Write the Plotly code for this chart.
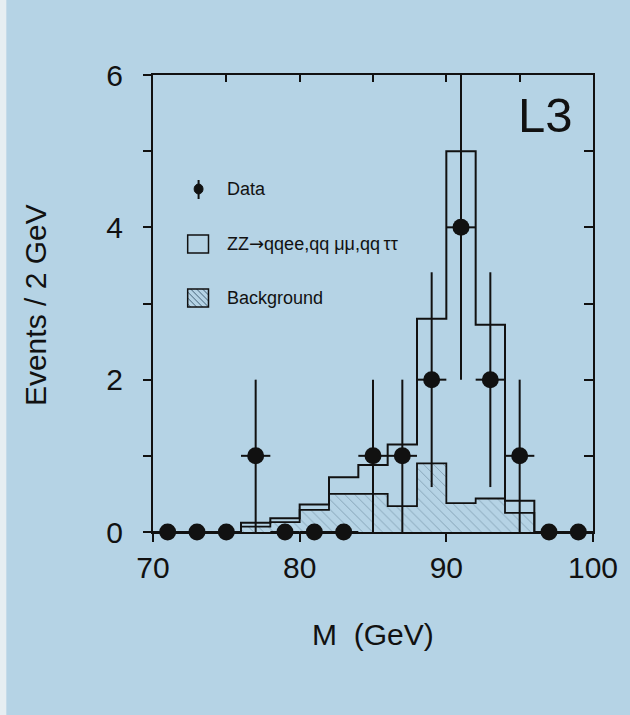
import plotly.graph_objects as go

# ---------------- data ----------------
bin_edges = [70, 72, 74, 76, 78, 80, 82, 84, 86, 88, 90, 92, 94, 96, 98, 100]
bin_centers = [71, 73, 75, 77, 79, 81, 83, 85, 87, 89, 91, 93, 95, 97, 99]
data_counts = [0, 0, 0, 1, 0, 0, 0, 1, 1, 2, 4, 2, 1, 0, 0]
data_err = [0, 0, 0, 1, 0, 0, 0, 1, 1, 1.41, 2, 1.41, 1, 0, 0]
data_xerr = [1] * 15
zz_total = [0, 0, 0, 0.12, 0.18, 0.36, 0.72, 0.88, 1.15, 2.80, 5.0, 2.72, 0.41, 0, 0]
background = [0, 0, 0, 0.07, 0.13, 0.29, 0.50, 0.50, 0.34, 0.90, 0.38, 0.44, 0.25, 0, 0]

x_ticks = [70, 80, 90, 100]
x_minor = [70, 75, 80, 85, 90, 95, 100]
y_ticks = [0, 1, 2, 3, 4, 5, 6]
y_ticktext = ["0", "", "2", "", "4", "", "6"]

BG = "#b5d3e5"
INK = "#111111"
HATCH = "#46647a"
FONT = "Liberation Sans, Arial, sans-serif"

W, H = 630, 715
ML, MR, MT, MB = 153, 33, 75, 183
PW, PH = W - ML - MR, H - MT - MB


def px(xp):
    return (xp - ML) / PW


def py(yp):
    return (H - MB - yp) / PH


fig = go.Figure()

# background (hatched)
fig.add_trace(go.Scatter(
    x=bin_edges, y=background + [background[-1]],
    mode="lines", line=dict(color=INK, width=1.8, shape="hv"),
    fill="tozeroy", fillcolor="rgba(0,0,0,0)",
    fillpattern=dict(shape="\\", fgcolor=HATCH, bgcolor="rgba(0,0,0,0)",
                     size=7, solidity=0.12, fillmode="overlay"),
    showlegend=False, hoverinfo="skip",
))

# ZZ + background total (open histogram)
fig.add_trace(go.Scatter(
    x=bin_edges, y=zz_total + [zz_total[-1]],
    mode="lines", line=dict(color=INK, width=2, shape="hv"),
    showlegend=False, hoverinfo="skip",
))

# data points
fig.add_trace(go.Scatter(
    x=bin_centers, y=data_counts, mode="markers",
    marker=dict(color=INK, size=17, symbol="circle"),
    error_y=dict(type="data", array=data_err, color=INK, thickness=2, width=0),
    error_x=dict(type="data", array=data_xerr, color=INK, thickness=2, width=0),
    cliponaxis=False, showlegend=False,
))

# dummy trace for mirrored (inside-tick) axes
fig.add_trace(go.Scatter(x=[None], y=[None], xaxis="x2", yaxis="y2",
                         showlegend=False, hoverinfo="skip"))

axis_font = dict(family=FONT, size=30, color=INK)

fig.update_layout(
    width=W, height=H,
    margin=dict(l=ML, r=MR, t=MT, b=MB),
    paper_bgcolor=BG, plot_bgcolor=BG,
    showlegend=False,
    font=dict(family=FONT, color=INK),
    xaxis=dict(range=[70, 100], tickvals=x_ticks, ticks="outside", ticklen=8,
               tickwidth=2, tickcolor=INK, showline=True, linecolor=INK,
               linewidth=2, mirror=True, showgrid=False, zeroline=False,
               tickfont=axis_font),
    yaxis=dict(range=[0, 6], tickvals=y_ticks, ticktext=y_ticktext,
               ticks="outside", ticklen=8, tickwidth=2, tickcolor=INK,
               showline=True, linecolor=INK, linewidth=2, mirror=True,
               showgrid=False, zeroline=False, tickfont=axis_font,
               ticklabelstandoff=14),
    xaxis2=dict(range=[70, 100], overlaying="x", side="top", tickvals=x_minor,
                ticks="inside", ticklen=7, tickwidth=2, tickcolor=INK,
                showticklabels=False, showline=False, showgrid=False,
                zeroline=False),
    yaxis2=dict(range=[0, 6], overlaying="y", side="right", tickvals=y_ticks,
                ticks="inside", ticklen=9, tickwidth=2, tickcolor=INK,
                showticklabels=False, showline=False, showgrid=False,
                zeroline=False),
)

# faint white strip at the left edge of the scan
fig.add_shape(type="rect", xref="paper", yref="paper",
              x0=px(-2), x1=px(5), y0=py(H + 2), y1=py(-2),
              fillcolor="#e6eef2", line_width=0, layer="below")

# axis titles
fig.add_annotation(text="M  (GeV)", xref="paper", yref="paper",
                   x=px(375), y=py(634), showarrow=False,
                   xanchor="center", yanchor="middle",
                   font=dict(family=FONT, size=30, color=INK))
fig.add_annotation(text="Events / 2 GeV", xref="paper", yref="paper",
                   x=px(34), y=py(305), showarrow=False, textangle=-90,
                   xanchor="center", yanchor="middle",
                   font=dict(family=FONT, size=30, color=INK))

# L3 label
fig.add_annotation(text="L3", xref="paper", yref="paper",
                   x=px(579), y=py(115), showarrow=False,
                   xanchor="right", yanchor="middle",
                   font=dict(family=FONT, size=49, color=INK))

# ---- hand-drawn legend ----
leg_font = dict(family=FONT, size=18, color=INK)
# Data symbol
fig.add_shape(type="line", xref="paper", yref="paper",
              x0=px(199), x1=px(199), y0=py(180), y1=py(199),
              line=dict(color=INK, width=2))
fig.add_shape(type="circle", xref="paper", yref="paper",
              x0=px(194.5), x1=px(203.5), y0=py(194), y1=py(184),
              fillcolor=INK, line=dict(color=INK, width=1))
fig.add_annotation(text="Data", xref="paper", yref="paper", x=px(226), y=py(189),
                   showarrow=False, xanchor="left", yanchor="middle", font=leg_font)
# ZZ open box
fig.add_shape(type="rect", xref="paper", yref="paper",
              x0=px(188), x1=px(209), y0=py(253), y1=py(235),
              fillcolor="rgba(0,0,0,0)", line=dict(color=INK, width=1.5))
fig.add_annotation(
    text="ZZ<span style=\"font-family:'DejaVu Sans'\">→</span>qqee,qq μμ,qq\u2009ττ",
    xref="paper", yref="paper", x=px(226), y=py(244), showarrow=False,
    xanchor="left", yanchor="middle", font=leg_font)
# Background hatched box (diagonal "\" lines clipped to the box)
bx0, bx1, by0, by1 = 188, 209, 289, 307
bh = by1 - by0
for c in range(bx0 - bh + 3, bx1 - 2, 6):   # line: x = c + (y - by0)
    pts = []
    for yy in (by0, by1):
        xx = c + (yy - by0)
        if bx0 <= xx <= bx1:
            pts.append((xx, yy))
    for xx in (bx0, bx1):
        yy = by0 + (xx - c)
        if by0 < yy < by1:
            pts.append((xx, yy))
    if len(pts) >= 2:
        (xa, ya), (xb, yb) = pts[0], pts[1]
        fig.add_shape(type="line", xref="paper", yref="paper",
                      x0=px(xa), x1=px(xb), y0=py(ya), y1=py(yb),
                      line=dict(color=HATCH, width=1))
fig.add_shape(type="rect", xref="paper", yref="paper",
              x0=px(bx0), x1=px(bx1), y0=py(by1), y1=py(by0),
              fillcolor="rgba(0,0,0,0)", line=dict(color=INK, width=1.5))
fig.add_annotation(text="Background", xref="paper", yref="paper",
                   x=px(226), y=py(298), showarrow=False, xanchor="left",
                   yanchor="middle", font=leg_font)

fig.write_html("out.html", config={"displayModeBar": False},
               post_script="document.body.style.margin='0';")
